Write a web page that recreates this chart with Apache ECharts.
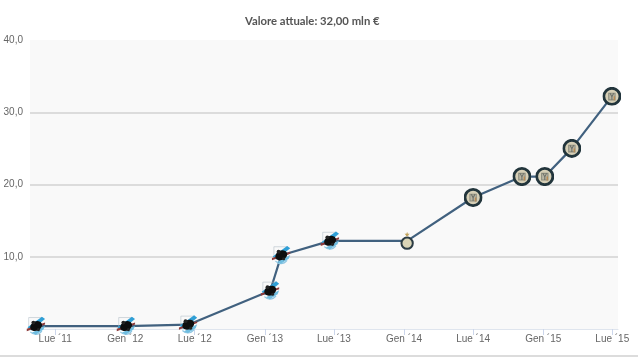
<!DOCTYPE html>
<html>
<head>
<meta charset="utf-8">
<style>
html, body { margin: 0; padding: 0; background: #fff; }
#chart { width: 638px; height: 357px; }
</style>
<script src="https://cdn.jsdelivr.net/npm/echarts@6/dist/echarts.min.js"></script>
</head>
<body>
<div id="chart"></div>
<script>
const dates = ['2011-05-12', '2012-01-03', '2012-06-14', '2013-01-15', '2013-02-13', '2013-06-21', '2014-01-09', '2014-07-01', '2014-11-06', '2015-01-05', '2015-03-17', '2015-06-30'];
const values = [0.4, 0.4, 0.6, 5.3, 10.2, 12.2, 12.2, 18.2, 21.1, 21.1, 25, 32.2];
const clubs = ['samp', 'samp', 'samp', 'samp', 'samp', 'samp', 'interOld', 'inter', 'inter', 'inter', 'inter', 'inter'];
const tickDates = ['2011-07-01', '2012-01-01', '2012-07-01', '2013-01-01', '2013-07-01', '2014-01-01', '2014-07-01', '2015-01-01', '2015-07-01'];
const tickLabels = ["Lue ´11", "Gen ´12", "Lue ´12", "Gen ´13", "Lue ´13", "Gen ´14", "Lue ´14", "Gen ´15", "Lue ´15"];
const yTicks = [10, 20, 30, 40];

const ms = d => +new Date(d);
const tickValues = tickDates.map(ms);

function svgUri(svg) {
  return 'image://data:image/svg+xml;charset=utf-8,' + encodeURIComponent(svg);
}

// piccoli stemmi, disegnati a mano
const crests = {
  samp: {
    size: 21,
    img: svgUri('<svg xmlns="http://www.w3.org/2000/svg" width="54" height="54" viewBox="0 0 54 54">' +
      '<path d="M8 30V5H44" fill="none" stroke="#b4c0c8" stroke-width="1.5"/>' +
      '<path d="M12 42C20 50 32 52 42 40" fill="none" stroke="#8fc6e2" stroke-width="3"/>' +
      '<path d="M5 30L42 3L50 9L14 38Z" fill="#2f9fd6"/>' +
      '<path d="M16 44L50 26L46 36L26 49Z" fill="#6fbde0"/>' +
      '<path d="M3 34L50 18L50 23L3 40Z" fill="#8c3a3a"/>' +
      '<ellipse cx="27" cy="27" rx="16" ry="12" transform="rotate(-25 27 27)" fill="#0e0e0e"/>' +
      '<circle cx="20" cy="18" r="5" fill="#222"/>' +
      '<circle cx="33" cy="36" r="4" fill="#222"/></svg>')
  },
  inter: {
    size: 19,
    img: svgUri('<svg xmlns="http://www.w3.org/2000/svg" width="54" height="54" viewBox="0 0 54 54">' +
      '<circle cx="27" cy="27" r="23" fill="#d6cfb6" stroke="#22353c" stroke-width="8"/>' +
      '<path d="M18 18H36V37H18Z" fill="#b9b6a4" stroke="#8b8c7e" stroke-width="3"/>' +
      '<path d="M22 18L27 28L32 18M27 28V37" fill="none" stroke="#6c6f66" stroke-width="3"/>' +
      '<path d="M34 27V38" stroke="#b98a52" stroke-width="4"/></svg>')
  },
  interOld: {
    size: 20,
    img: svgUri('<svg xmlns="http://www.w3.org/2000/svg" width="60" height="60" viewBox="0 0 60 60">' +
      '<circle cx="30" cy="37" r="17" fill="#d9d4b6" stroke="#2b3c44" stroke-width="6"/>' +
      '<path d="M30 3L32 9L38 9L33 13L35 18L30 15L25 18L27 13L22 9L28 9Z" fill="#c2a35c"/></svg>')
  }
};

const points = dates.map((d, i) => ({
  value: [ms(d), values[i]],
  symbol: crests[clubs[i]].img,
  symbolSize: crests[clubs[i]].size
}));

const chart = echarts.init(document.getElementById('chart'), null, { renderer: 'canvas' });
chart.setOption({
  animation: false,
  backgroundColor: '#fff',
  title: {
    text: 'Valore attuale: 32,00 mln €',
    left: 240,
    top: 11,
    textStyle: { fontFamily: 'Lato', fontSize: 11.3, fontWeight: 'bold', color: '#555' }
  },
  grid: { left: 30, right: 20, top: 40, bottom: 28, show: true, backgroundColor: '#f9f9f9', borderWidth: 0 },
  xAxis: {
    type: 'value',
    min: ms('2011-04-26'),
    max: ms('2015-07-16'),
    axisLine: { show: true, onZero: false, lineStyle: { color: '#dfe5ee', width: 1 } },
    splitLine: { show: false },
    axisTick: { show: true, length: 6, lineStyle: { color: '#ccd6eb' }, customValues: tickValues },
    axisLabel: {
      customValues: tickValues,
      formatter: function (v) {
        const i = tickValues.indexOf(v);
        return i < 0 ? '' : tickLabels[i];
      },
      fontFamily: 'Liberation Sans',
      fontSize: 10,
      color: '#666',
      margin: 5,
      showMinLabel: true,
      showMaxLabel: true
    }
  },
  yAxis: {
    type: 'value',
    min: 0,
    max: 40,
    interval: 10,
    axisLine: { show: false },
    axisTick: { show: false },
    splitLine: { showMinLine: false, showMaxLine: false, lineStyle: { color: '#d2d2d2', width: 1.5 } },
    axisLabel: {
      formatter: function (v) {
        return yTicks.includes(v) ? v.toFixed(1).replace('.', ',') : '';
      },
      fontFamily: 'Liberation Sans',
      fontSize: 10,
      color: '#666',
      margin: 7
    }
  },
  series: [{
    type: 'line',
    data: points,
    showSymbol: true,
    lineStyle: { color: '#41617f', width: 2.2 },
    clip: false
  }],
  graphic: [{
    type: 'rect',
    shape: { x: 0, y: 355, width: 638, height: 2 },
    style: { fill: '#dcdcdc' },
    silent: true
  }]
});
</script>
</body>
</html>
